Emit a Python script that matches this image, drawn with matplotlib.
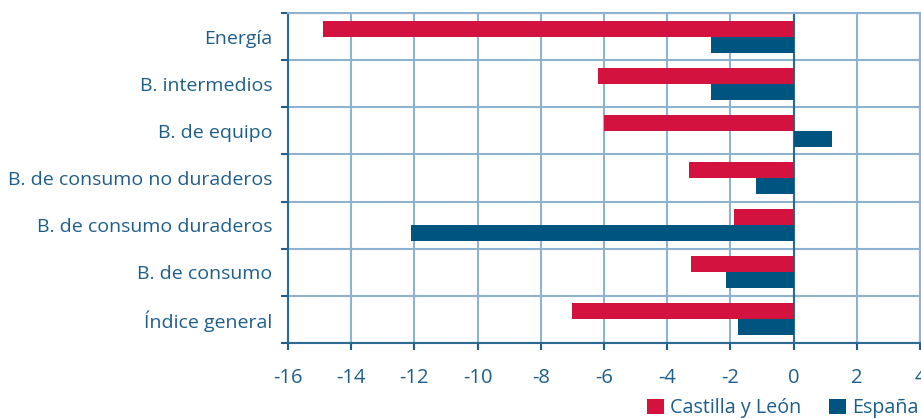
import matplotlib
matplotlib.use("Agg")
import matplotlib.pyplot as plt
import numpy as np

categories = ["Energía", "B. intermedios", "B. de equipo", "B. de consumo no duraderos",
              "B. de consumo duraderos", "B. de consumo", "Índice general"]
castilla = [-14.9, -6.2, -6.0, -3.3, -1.9, -3.25, -7.0]
espana = [-2.6, -2.6, 1.2, -1.2, -12.1, -2.15, -1.75]
series_names = ["Castilla y León", "España"]
xticks = [-16, -14, -12, -10, -8, -6, -4, -2, 0, 2, 4]

RED = "#D4123F"
BLUE = "#005580"
TXT = "#1d5f8a"
GRID = "#8db3cf"

plt.rcParams['font.family'] = ['Open Sans', 'DejaVu Sans']

fig = plt.figure(figsize=(9.21, 4.18), dpi=100)
ax = fig.add_axes([288/921, 75/418, 632/921, 330/418])

y = np.arange(len(categories))
h = 0.34
ax.barh(y - h/2, castilla, height=h, color=RED, zorder=3, label=series_names[0])
ax.barh(y + h/2, espana, height=h, color=BLUE, zorder=3, label=series_names[1])

ax.set_xlim(-16, 4)
ax.set_ylim(len(categories) - 0.5, -0.5)

ax.set_xticks(xticks)
ax.set_xticklabels([str(v) for v in xticks])
ax.set_yticks(np.arange(-0.5, len(categories)), labels=[""] * (len(categories) + 1))
ax.set_yticks(y, labels=categories, minor=True)

ax.tick_params(axis='y', which='major', length=5, width=1.5, color=TXT, direction='out')
ax.tick_params(axis='y', which='minor', length=0, pad=11, labelsize=14, labelcolor=TXT)
ax.tick_params(axis='x', which='major', length=5, width=1.5, color=TXT, direction='out',
               pad=13, labelsize=14.5, labelcolor=TXT)

ax.grid(True, which='major', axis='both', color=GRID, linewidth=1.5, zorder=0)
ax.axvline(0, color="#2a6a93", linewidth=1.5, zorder=2)

for s in ['top', 'right']:
    ax.spines[s].set_color(GRID)
    ax.spines[s].set_linewidth(1.5)
for s in ['left', 'bottom']:
    ax.spines[s].set_color("#2a6a93")
    ax.spines[s].set_linewidth(1.5)

fig.legend(loc='lower right', bbox_to_anchor=(1.006, -0.02), ncol=2, frameon=False,
           fontsize=14.2, labelcolor=TXT, handlelength=0.85, handleheight=0.8,
           handletextpad=0.32, columnspacing=1.4, borderaxespad=0.0)

fig.savefig("out.png", dpi=100)
